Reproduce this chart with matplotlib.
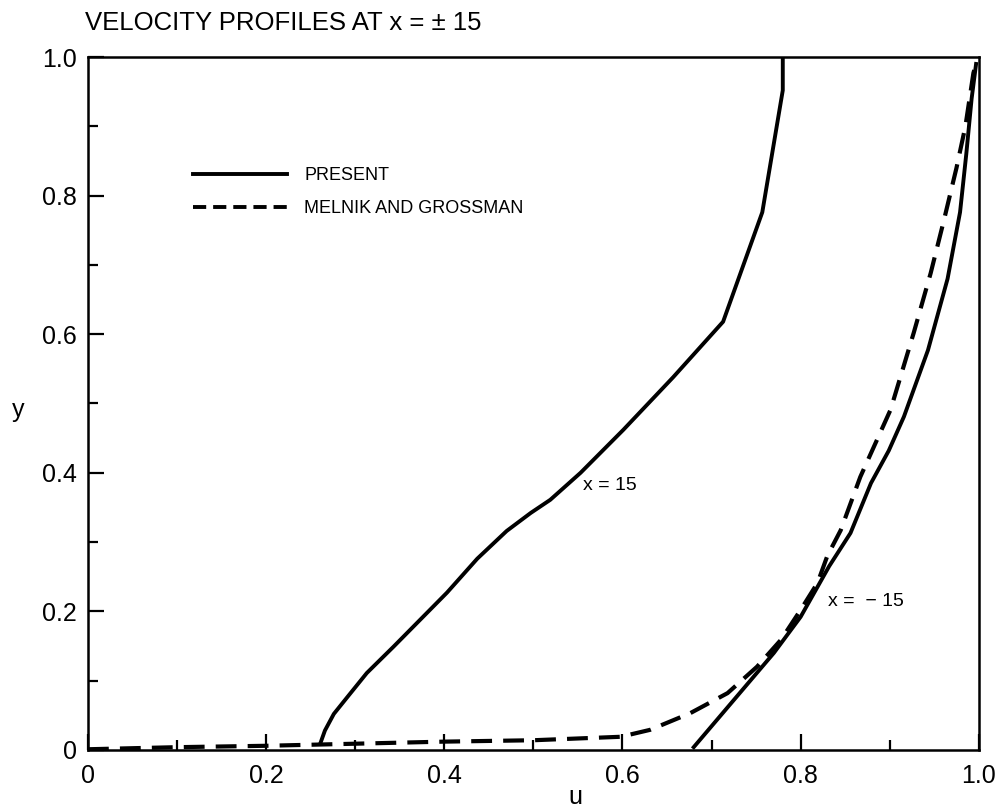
import matplotlib
matplotlib.use('Agg')
import matplotlib.pyplot as plt
from matplotlib.lines import Line2D
from matplotlib.ticker import MultipleLocator, FixedFormatter, FixedLocator

plt.rcParams['font.family'] = ['Liberation Sans', 'DejaVu Sans']
plt.rcParams['lines.scale_dashes'] = False

# present, x = 15
u_p15 = [0.261, 0.266, 0.276, 0.291, 0.313, 0.343, 0.373, 0.403, 0.437, 0.470,
         0.497, 0.519, 0.553, 0.601, 0.657, 0.713, 0.757, 0.780, 0.780]
y_p15 = [0.010, 0.028, 0.052, 0.076, 0.111, 0.149, 0.188, 0.227, 0.276, 0.316,
         0.342, 0.361, 0.400, 0.462, 0.538, 0.618, 0.776, 0.952, 1.0]

# present, x = -15
u_m15 = [0.680, 0.725, 0.770, 0.800, 0.832, 0.856, 0.879, 0.899, 0.916, 0.943,
         0.965, 0.979, 0.986, 0.992, 0.997]
y_m15 = [0.004, 0.072, 0.140, 0.192, 0.265, 0.313, 0.385, 0.432, 0.481, 0.577,
         0.680, 0.776, 0.860, 0.940, 0.990]

# melnik and grossman
u_mg = [0.0, 0.1, 0.2, 0.3, 0.4, 0.5, 0.598, 0.631, 0.676, 0.718, 0.751, 0.778,
        0.800, 0.819, 0.830, 0.845, 0.867, 0.901, 0.927, 0.946, 0.961, 0.975,
        0.985, 0.994, 0.997]
y_mg = [0.001, 0.004, 0.006, 0.009, 0.012, 0.014, 0.019, 0.029, 0.053, 0.082,
        0.120, 0.159, 0.202, 0.241, 0.280, 0.317, 0.394, 0.491, 0.602, 0.688,
        0.765, 0.840, 0.900, 0.977, 0.990]

xticks = [0, 0.2, 0.4, 0.6, 0.8, 1.0]
xlabels = ['0', '0.2', '0.4', '0.6', '0.8', '1.0']
yticks = [0, 0.2, 0.4, 0.6, 0.8, 1.0]
ylabels = ['0', '0.2', '0.4', '0.6', '0.8', '1.0']

fig = plt.figure(figsize=(10.02, 8.09), dpi=100)
ax = fig.add_axes([0.0878, 0.073, 0.889, 0.8565])

ax.plot(u_p15, y_p15, color='black', lw=2.8)
ax.plot(u_m15, y_m15, color='black', lw=2.8)
ax.plot(u_mg, y_mg, color='black', lw=3.0, dashes=(15, 8))

ax.set_xlim(0, 1.0)
ax.set_ylim(0, 1.0)
ax.xaxis.set_major_locator(FixedLocator(xticks))
ax.xaxis.set_major_formatter(FixedFormatter(xlabels))
ax.yaxis.set_major_locator(FixedLocator(yticks))
ax.yaxis.set_major_formatter(FixedFormatter(ylabels))
ax.xaxis.set_minor_locator(MultipleLocator(0.1))
ax.yaxis.set_minor_locator(MultipleLocator(0.1))
ax.tick_params(which='both', direction='in', width=1.6, top=False, right=False,
               labelsize=18)
ax.tick_params(which='major', length=11.5)
ax.tick_params(which='minor', length=7)
ax.tick_params(axis='x', pad=10)
ax.tick_params(axis='y', pad=8)
for s in ax.spines.values():
    s.set_linewidth(1.8)

ax.text(0.556, 0.382, 'x = 15', fontsize=14, va='center')
ax.text(0.831, 0.214, 'x =  \u2212 15', fontsize=14, va='center')

# legend proxies
h1 = Line2D([], [], color='black', lw=2.8)
h2 = Line2D([], [], color='black', lw=2.8, dashes=(9.5, 5))
ax.legend([h1, h2], ['PRESENT', 'MELNIK AND GROSSMAN'], loc='upper left',
          bbox_to_anchor=(0.118, 0.841), frameon=False, fontsize=13,
          handlelength=5.2, handletextpad=0.95, labelspacing=0.9,
          borderpad=0, borderaxespad=0)

fig.text(85 / 1002, 1 - 23 / 809, 'VELOCITY PROFILES AT x = \u00b1 15', fontsize=18.5,
         va='center', ha='left')
fig.text(18 / 1002, 1 - 410 / 809, 'y', fontsize=18, va='center', ha='center')
fig.text(575 / 1002, 1 - 797 / 809, 'u', fontsize=18, va='center', ha='center')

fig.savefig('out.png', dpi=100)
